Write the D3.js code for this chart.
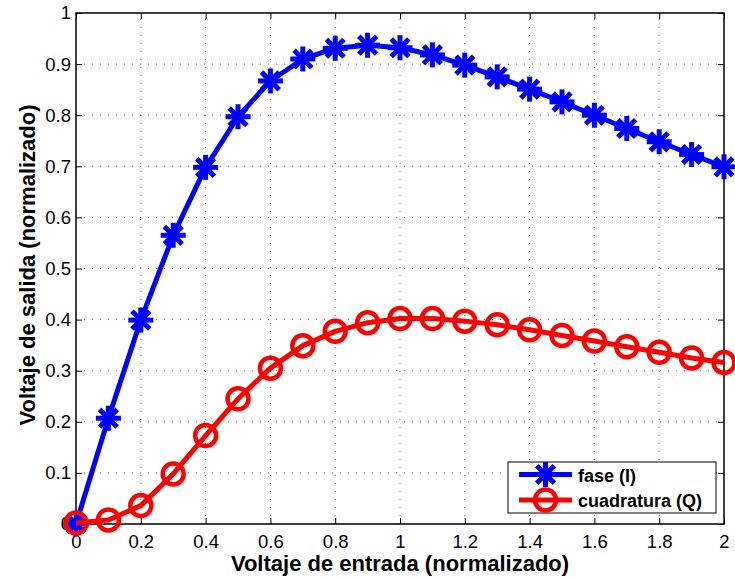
<!DOCTYPE html>
<html>
<head>
<meta charset="utf-8">
<script src="https://cdn.jsdelivr.net/npm/d3@7"></script>
<style>
  body { margin: 0; background: #fff; }
  svg { display: block; font-family: "Liberation Sans", Arial, sans-serif; }
</style>
</head>
<body>
<div id="chart"></div>
<script>
// input voltage (normalized)
const xValues = [0, 0.1, 0.2, 0.3, 0.4, 0.5, 0.6, 0.7, 0.8, 0.9, 1.0,
  1.1, 1.2, 1.3, 1.4, 1.5, 1.6, 1.7, 1.8, 1.9, 2.0];
// in-phase output (I)
const faseValues = [0, 0.207, 0.399, 0.565, 0.698, 0.797, 0.867, 0.910, 0.931, 0.937, 0.932,
  0.918, 0.898, 0.875, 0.851, 0.826, 0.800, 0.774, 0.748, 0.723, 0.699];
// quadrature output (Q)
const cuadValues = [0.002, 0.008, 0.036, 0.098, 0.173, 0.245, 0.305, 0.349, 0.377, 0.394, 0.402,
  0.402, 0.397, 0.390, 0.380, 0.369, 0.358, 0.347, 0.336, 0.325, 0.316];
const xTicks = [0, 0.2, 0.4, 0.6, 0.8, 1, 1.2, 1.4, 1.6, 1.8, 2];
const yTicks = [0, 0.1, 0.2, 0.3, 0.4, 0.5, 0.6, 0.7, 0.8, 0.9, 1];
const seriesNames = ["fase (I)", "cuadratura (Q)"];

const W = 735, H = 579;
const margin = { left: 76, right: 11, top: 13, bottom: 55 };
const pw = W - margin.left - margin.right;
const ph = H - margin.top - margin.bottom;

const svg = d3.select("#chart").append("svg")
  .attr("width", W)
  .attr("height", H);

const x = d3.scaleLinear().domain([0, 2]).range([margin.left, margin.left + pw]);
const y = d3.scaleLinear().domain([0, 1]).range([margin.top + ph, margin.top]);

// dotted grid
const grid = svg.append("g");
xTicks.slice(1, -1).forEach(t => {
  grid.append("line")
    .attr("x1", x(t)).attr("x2", x(t))
    .attr("y1", y(0)).attr("y2", y(1))
    .attr("stroke", "#444").attr("stroke-width", 0.8)
    .attr("stroke-dasharray", "1,7");
});
yTicks.slice(1, -1).forEach(t => {
  grid.append("line")
    .attr("x1", x(0)).attr("x2", x(2))
    .attr("y1", y(t)).attr("y2", y(t))
    .attr("stroke", "#444").attr("stroke-width", 0.8)
    .attr("stroke-dasharray", "1,7");
});

// axes (ticks pointing inward)
svg.append("g")
  .attr("transform", `translate(0,${y(0)})`)
  .call(d3.axisBottom(x).tickValues(xTicks).tickSizeInner(-6).tickSizeOuter(0).tickPadding(11)
    .tickFormat(d3.format("~g")));
svg.append("g")
  .attr("transform", `translate(0,${y(1)})`)
  .call(d3.axisTop(x).tickValues(xTicks).tickSizeInner(-6).tickSizeOuter(0).tickFormat(""));
svg.append("g")
  .attr("transform", `translate(${x(0)},0)`)
  .call(d3.axisLeft(y).tickValues(yTicks).tickSizeInner(-6).tickSizeOuter(0).tickPadding(5)
    .tickFormat(d3.format("~g")));
svg.append("g")
  .attr("transform", `translate(${x(2)},0)`)
  .call(d3.axisRight(y).tickValues(yTicks).tickSizeInner(-6).tickSizeOuter(0).tickFormat(""));

svg.selectAll(".tick line").attr("stroke", "#000").attr("stroke-width", 1);
svg.selectAll(".domain").remove();
svg.selectAll(".tick text")
  .attr("font-size", 18.5)
  .attr("font-family", "'Liberation Sans', Arial, sans-serif")
  .attr("fill", "#000");

// box
svg.append("rect")
  .attr("x", x(0)).attr("y", y(1))
  .attr("width", x(2) - x(0)).attr("height", y(0) - y(1))
  .attr("fill", "none").attr("stroke", "#000").attr("stroke-width", 1.5);

// asterisk marker
function asterisk(g, cx, cy, r, color) {
  [0, 45, 90, 135].forEach(a => {
    const rad = a * Math.PI / 180;
    g.append("line")
      .attr("x1", cx - r * Math.cos(rad)).attr("y1", cy - r * Math.sin(rad))
      .attr("x2", cx + r * Math.cos(rad)).attr("y2", cy + r * Math.sin(rad))
      .attr("stroke", color).attr("stroke-width", 5).attr("stroke-linecap", "square");
  });
}

const line = d3.line().x(d => x(d[0])).y(d => y(d[1]));

// quadrature series
const qData = xValues.map((v, i) => [v, cuadValues[i]]);
const qG = svg.append("g");
qG.append("path").datum(qData)
  .attr("d", line).attr("fill", "none")
  .attr("stroke", "#ff0000").attr("stroke-width", 5).attr("stroke-linejoin", "round");

// in-phase series
const iData = xValues.map((v, i) => [v, faseValues[i]]);
const iG = svg.append("g");
iG.append("path").datum(iData)
  .attr("d", line).attr("fill", "none")
  .attr("stroke", "#0000ff").attr("stroke-width", 5).attr("stroke-linejoin", "round");
iData.forEach(d => asterisk(iG, x(d[0]), y(d[1]), 10, "#0000ff"));

qData.forEach(d => {
  qG.append("circle")
    .attr("cx", x(d[0])).attr("cy", y(d[1])).attr("r", 10.5)
    .attr("fill", "none").attr("stroke", "#ff0000").attr("stroke-width", 4.5);
});
svg.node().appendChild(qG.node());

// axis titles
svg.append("text")
  .attr("x", (x(0) + x(2)) / 2).attr("y", 571)
  .attr("text-anchor", "middle")
  .attr("font-size", 22).attr("font-weight", "bold")
  .text("Voltaje de entrada (normalizado)");
svg.append("text")
  .attr("transform", "translate(35,265) rotate(-90)")
  .attr("text-anchor", "middle")
  .attr("font-size", 22).attr("font-weight", "bold")
  .text("Voltaje de salida (normalizado)");

// legend
const lg = svg.append("g").attr("transform", "translate(508,462)");
lg.append("rect")
  .attr("width", 208).attr("height", 51)
  .attr("fill", "#fff").attr("stroke", "#000").attr("stroke-width", 1);
const lItems = [
  { name: seriesNames[0], color: "#0000ff", cy: 12.5 },
  { name: seriesNames[1], color: "#ff0000", cy: 38 }
];
lItems.forEach((it, i) => {
  lg.append("line")
    .attr("x1", 11).attr("x2", 64).attr("y1", it.cy).attr("y2", it.cy)
    .attr("stroke", it.color).attr("stroke-width", 5);
  if (i === 0) asterisk(lg, 37.5, it.cy, 10, it.color);
  else lg.append("circle").attr("cx", 37.5).attr("cy", it.cy).attr("r", 10.5)
    .attr("fill", "none").attr("stroke", it.color).attr("stroke-width", 4.5);
  lg.append("text")
    .attr("x", 70).attr("y", it.cy + 7)
    .attr("font-size", 18).attr("font-weight", "bold")
    .text(it.name);
});
</script>
</body>
</html>
